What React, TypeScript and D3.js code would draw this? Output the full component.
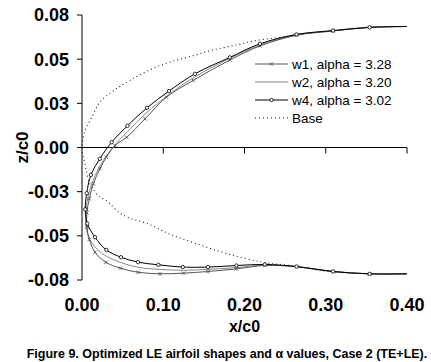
import * as d3 from 'd3';

// x/c0 and z/c0 of each shape, from upper trailing side round the nose to lower side
const w1X = [0.4, 0.354, 0.309, 0.264, 0.219, 0.182, 0.137, 0.104, 0.0775, 0.055, 0.0406, 0.03, 0.022, 0.014, 0.009, 0.006, 0.006, 0.009, 0.016, 0.0295, 0.047, 0.069, 0.096, 0.125, 0.155, 0.19, 0.225, 0.264, 0.309, 0.354, 0.4];
const w1Z = [0.0685, 0.068, 0.066, 0.0635, 0.0575, 0.0495, 0.038, 0.0285, 0.0162, 0.0058, 0.0011, -0.0055, -0.012, -0.0205, -0.029, -0.037, -0.045, -0.052, -0.0593, -0.065, -0.0683, -0.0706, -0.0715, -0.0711, -0.0702, -0.0687, -0.0668, -0.0674, -0.0702, -0.0715, -0.0715];

const w2X = [0.4, 0.354, 0.309, 0.264, 0.219, 0.182, 0.139, 0.107, 0.079, 0.056, 0.038, 0.026, 0.016, 0.009, 0.005, 0.005, 0.01, 0.022, 0.03, 0.047, 0.069, 0.096, 0.125, 0.155, 0.19, 0.225, 0.264, 0.309, 0.354, 0.4];
const w2Z = [0.0685, 0.068, 0.066, 0.0638, 0.058, 0.0505, 0.04, 0.03, 0.0195, 0.009, 0.0, -0.0075, -0.016, -0.025, -0.035, -0.045, -0.0525, -0.059, -0.0615, -0.065, -0.0678, -0.069, -0.0695, -0.069, -0.068, -0.0665, -0.0674, -0.0702, -0.0715, -0.0715];

const w4X = [0.4, 0.354, 0.309, 0.264, 0.219, 0.182, 0.139, 0.107, 0.08, 0.056, 0.0365, 0.022, 0.011, 0.0058, 0.004, 0.0065, 0.016, 0.03, 0.048, 0.069, 0.094, 0.124, 0.155, 0.19, 0.225, 0.264, 0.309, 0.354, 0.4];
const w4Z = [0.0685, 0.068, 0.0662, 0.064, 0.0587, 0.051, 0.0417, 0.0319, 0.0225, 0.0123, 0.003, -0.0064, -0.0155, -0.0259, -0.035, -0.043, -0.0508, -0.058, -0.0621, -0.0649, -0.0664, -0.0677, -0.0677, -0.0668, -0.0662, -0.0674, -0.0702, -0.0715, -0.0715];

const baseX = [0.4, 0.35, 0.3, 0.264, 0.252, 0.215, 0.19, 0.162, 0.137, 0.108, 0.084, 0.059, 0.0385, 0.022, 0.012, 0.0037, 0.001, 0.0, 0.001, 0.0037, 0.0098, 0.022, 0.03, 0.045, 0.059, 0.08, 0.108, 0.141, 0.178, 0.223, 0.256, 0.3, 0.354, 0.4];
const baseZ = [0.0685, 0.068, 0.0655, 0.064, 0.0628, 0.0606, 0.058, 0.0553, 0.052, 0.0483, 0.044, 0.038, 0.032, 0.0257, 0.017, 0.0096, 0.004, 0.0, -0.004, -0.0092, -0.0206, -0.028, -0.03, -0.0366, -0.04, -0.043, -0.049, -0.0545, -0.06, -0.065, -0.0668, -0.07, -0.0715, -0.0715];

const xTicks = [0, 0.1, 0.2, 0.3, 0.4];
const xTickLabels = ['0.00', '0.10', '0.20', '0.30', '0.40'];
const yTicks = [0.075, 0.05, 0.025, 0, -0.025, -0.05, -0.075];
const yTickLabels = ['0.08', '0.05', '0.03', '0.00', '-0.03', '-0.05', '-0.08'];
const seriesNames = ['w1, alpha = 3.28', 'w2, alpha = 3.20', 'w4, alpha = 3.02', 'Base'];

const W = 431;
const H = 362;
const FONT = 'Liberation Sans, Arial, sans-serif';

export default function App() {
  const x = d3.scaleLinear().domain([0, 0.4]).range([82, 407]);
  const y = d3.scaleLinear().domain([-0.075, 0.075]).range([280, 15]);

  const line = d3
    .line<[number, number]>()
    .x((d) => x(d[0]))
    .y((d) => y(d[1]))
    .curve(d3.curveCatmullRom.alpha(0.5));

  const pts = (xs: number[], zs: number[]) => xs.map((v, i) => [v, zs[i]] as [number, number]);
  const w1 = pts(w1X, w1Z);
  const w2 = pts(w2X, w2Z);
  const w4 = pts(w4X, w4Z);
  const base = pts(baseX, baseZ);

  const cross = (cx: number, cy: number, s: number, key: string | number, color: string) => (
    <path key={key} d={`M${cx - s},${cy - s}L${cx + s},${cy + s}M${cx - s},${cy + s}L${cx + s},${cy - s}`} stroke={color} strokeWidth={0.9} fill="none" />
  );

  const legendY = [64, 82, 100, 118];

  return (
    <svg width={W} height={H} style={{ position: 'absolute', left: 0, top: 0, background: '#fff' }} fontFamily={FONT}>
      {/* axes */}
      <line x1={x(0)} x2={x(0)} y1={y(0.075)} y2={y(-0.075)} stroke="#000" strokeWidth={1} />
      <line x1={x(0)} x2={x(0.4)} y1={y(0)} y2={y(0)} stroke="#000" strokeWidth={1} />
      {yTicks.map((t, i) => (
        <g key={'yt' + i}>
          <line x1={x(0) - 5} x2={x(0)} y1={y(t)} y2={y(t)} stroke="#000" />
          <text x={69} y={y(t)} dy="0.36em" textAnchor="end" fontSize={18} fontWeight="bold">
            {yTickLabels[i]}
          </text>
        </g>
      ))}
      {xTicks.map((t, i) => (
        <g key={'xt' + i}>
          {t > 0 && <line x1={x(t)} x2={x(t)} y1={y(0)} y2={y(0) + 6} stroke="#000" />}
          <text x={x(t)} y={305} dy="0.36em" textAnchor="middle" fontSize={18} fontWeight="bold">
            {xTickLabels[i]}
          </text>
        </g>
      ))}
      <text x={x(0.2)} y={326} dy="0.36em" textAnchor="middle" fontSize={16} fontWeight="bold">
        x/c0
      </text>
      <text transform={`translate(22,${y(0)}) rotate(-90)`} dy="0.36em" textAnchor="middle" fontSize={17} fontWeight="bold">
        z/c0
      </text>

      {/* curves */}
      <path d={line(base) ?? ''} fill="none" stroke="#222" strokeWidth={1.1} strokeDasharray="1 3" />
      <path d={line(w2) ?? ''} fill="none" stroke="#888" strokeWidth={1} />
      <path d={line(w1) ?? ''} fill="none" stroke="#555" strokeWidth={1} />
      <path d={line(w4) ?? ''} fill="none" stroke="#000" strokeWidth={1} />
      {w1.slice(1, -1).map((d, i) => cross(x(d[0]), y(d[1]), 1.7, 'm1' + i, '#555'))}
      {w4.slice(1, -1).map((d, i) => (
        <circle key={'m4' + i} cx={x(d[0])} cy={y(d[1])} r={1.7} fill="#fff" stroke="#000" strokeWidth={0.8} />
      ))}

      {/* legend */}
      <line x1={255} x2={288} y1={legendY[0]} y2={legendY[0]} stroke="#555" />
      {cross(271.5, legendY[0], 1.7, 'lg1', '#555')}
      <line x1={255} x2={288} y1={legendY[1]} y2={legendY[1]} stroke="#888" />
      <line x1={255} x2={288} y1={legendY[2]} y2={legendY[2]} stroke="#000" />
      <circle cx={271.5} cy={legendY[2]} r={1.7} fill="#fff" stroke="#000" strokeWidth={0.8} />
      <line x1={255} x2={288} y1={legendY[3]} y2={legendY[3]} stroke="#222" strokeWidth={1.1} strokeDasharray="1 3" />
      {seriesNames.map((s, i) => (
        <text key={'lt' + i} x={292} y={legendY[i]} dy="0.36em" fontSize={13.5}>
          {s}
        </text>
      ))}

      <text x={227} y={353} dy="0.36em" textAnchor="middle" fontSize={12.5} fontWeight="bold">
        Figure 9. Optimized LE airfoil shapes and α values, Case 2 (TE+LE).
      </text>
    </svg>
  );
}
